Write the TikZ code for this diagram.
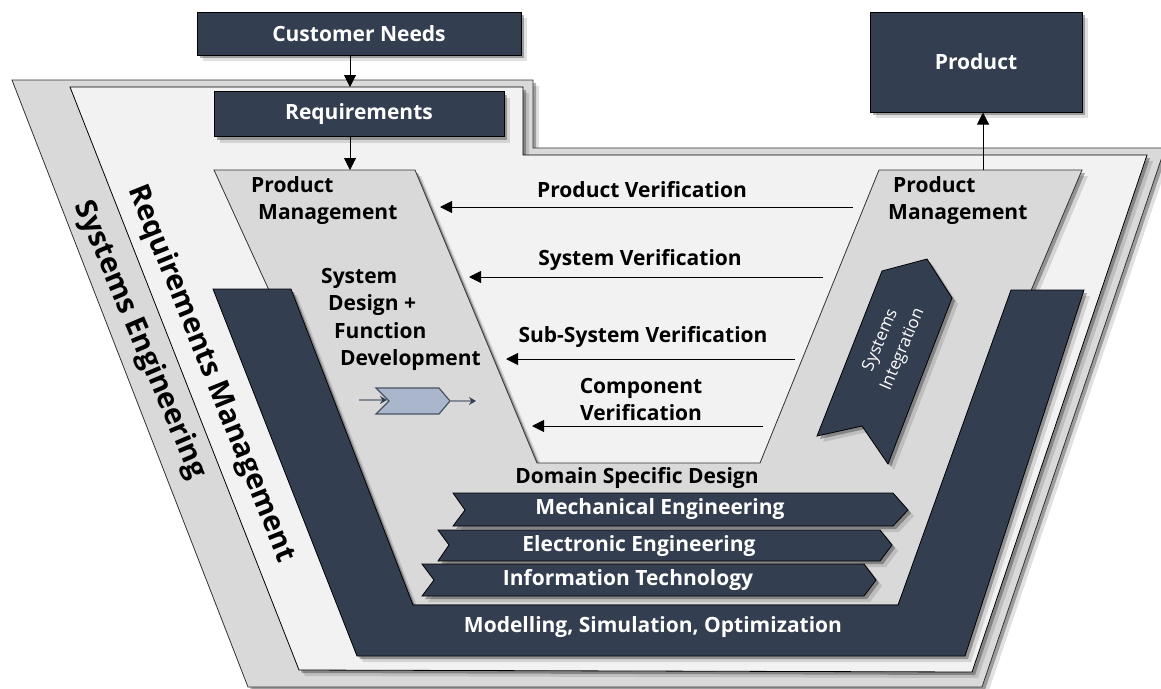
\documentclass[tikz,border=0pt]{standalone}
\usepackage{fontspec}
\setmainfont{Open Sans}
\usetikzlibrary{arrows.meta,shadows}
\definecolor{navy}{HTML}{333F50}
\definecolor{band}{HTML}{D9D9D9}
\definecolor{pale}{HTML}{F2F2F2}
\definecolor{steel}{HTML}{A9B6CB}
\tikzset{
  shade/.style={
    drop shadow={shadow xshift=6pt,shadow yshift=-6pt,fill=black,opacity=0.12},
    drop shadow={shadow xshift=3pt,shadow yshift=-3pt,fill=black,opacity=0.3}},
  navybox/.style={draw=black,line width=1pt,fill=navy,shade,text=white,font=\bfseries\fontsize{21}{24}\selectfont,inner sep=0pt},
  navyarea/.style={draw=black,line width=0.8pt,fill=navy,shade},
  bandarea/.style={draw=black!80,line width=0.8pt,fill=band,shade},
  whitelabel/.style={text=white,font=\bfseries\fontsize{21}{24}\selectfont},
  blacklabel/.style={text=black,font=\bfseries\fontsize{21}{27.5}\selectfont},
  flow/.style={line width=1pt,-{Triangle[length=12pt,width=12pt]}}
}
\begin{document}
\begin{tikzpicture}[x=1pt,y=-1pt]
\useasboundingbox (0,0) rectangle (1161,688);
% layers, back to front
\draw[bandarea] (12,80) -- (533,80) -- (533,148) -- (1165,148) -- (982,687) -- (248,687) -- cycle;
\draw[draw=black,line width=0.8pt,fill=pale,shade] (70,87) -- (523,87) -- (523,155) -- (1147,155) -- (972,672) -- (299,670) -- cycle;
\draw[bandarea] (214,170) -- (415,170) -- (537,463) -- (760,463) -- (879,170) -- (1082,170) -- (898,605) -- (413,605) -- cycle;
\draw[navyarea] (213,289) -- (291,289) -- (413,605) -- (898,605) -- (1011,290) -- (1084,290) -- (965,656) -- (357,656) -- cycle;
% domain chevrons
\draw[navyarea] (453,493) -- (893,493) -- (908,510) -- (893,526) -- (453,526) -- (465,510) -- cycle;
\draw[navyarea] (438,530) -- (880,530) -- (892,545) -- (880,561) -- (438,561) -- (449,545) -- cycle;
\draw[navyarea] (422,564) -- (864,564) -- (876,580) -- (864,596) -- (422,596) -- (434,580) -- cycle;
% integration arrow
\draw[navyarea] (817,436) -- (882,271) -- (927,259) -- (952,298) -- (888,464) -- (862,426) -- cycle;
\node[text=white,font=\fontsize{17}{24}\selectfont,align=center,rotate=67] (integration) at (892,345) {Systems\\Integration};
% boxes
\node[navybox,minimum width=324pt,minimum height=43pt] (customer) at (359,33.5) {Customer Needs};
\node[navybox,minimum width=290pt,minimum height=45pt] (reqs) at (359,114) {Requirements};
\node[navybox,minimum width=212pt,minimum height=100pt] (product) at (976,62) {Product};
% connectors
\coordinate (rmtop) at (350,87);
\coordinate (vtop) at (350,170);
\coordinate (vright) at (983,170);
\draw[flow] (customer.south -| rmtop) -- (rmtop);
\draw[flow] (reqs.south -| vtop) -- (vtop);
\draw[flow] (vright) -- (product.south -| vright);
\coordinate (pvstart) at (853,207);
\coordinate (pvend) at (440,207);
\coordinate (svstart) at (823,277);
\coordinate (svend) at (469,277);
\coordinate (ssvstart) at (795,359);
\coordinate (ssvend) at (506,359);
\coordinate (cvstart) at (763,426);
\coordinate (cvend) at (532,426);
\draw[flow] (pvstart) -- (pvend);
\draw[flow] (svstart) -- (svend);
\draw[flow] (ssvstart) -- (ssvend);
\draw[flow] (cvstart) -- (cvend);
% small process symbol
\draw[draw=navy!90,line width=1.2pt,fill=steel] (376,388) -- (439,388) -- (450,401) -- (439,414) -- (376,414) -- (389,401) -- cycle;
\coordinate (symin) at (359,400);
\coordinate (symend) at (387,400);
\coordinate (symout) at (450,401);
\coordinate (symtip) at (476,401);
\draw[draw=navy!60,line width=1.5pt,-{Stealth[length=7pt,width=8pt,navy]}] (symin) -- (symend);
\draw[draw=navy!60,line width=1.5pt,-{Stealth[length=7pt,width=8pt,navy]}] (symout) -- (symtip);
% labels
\node[blacklabel,align=left,anchor=north west,inner sep=0pt] (pmleft) at (251,176) {Product\\\hspace*{7pt}Management};
\node[blacklabel,align=left,anchor=north west,inner sep=0pt] (pmright) at (888,176) {\hspace*{5pt}Product\\Management};
\node[blacklabel,align=left,anchor=north west,inner sep=0pt] (sysdesign) at (321,268) {System\\\hspace*{7pt}Design +\\\hspace*{13pt}Function\\\hspace*{19pt}Development};
\node[blacklabel] (pv) at (642,190) {Product Verification};
\node[blacklabel] (sv) at (640,260) {System Verification};
\node[blacklabel] (ssv) at (643,337) {Sub-System Verification};
\node[blacklabel,align=center] (cv) at (641,399.5) {Component\\Verification};
\node[blacklabel] (domain) at (637,478) {Domain Specific Design};
\node[whitelabel] (mech) at (660,509) {Mechanical Engineering};
\node[whitelabel] (elec) at (639,546) {Electronic Engineering};
\node[whitelabel] (info) at (628,580) {Information Technology};
\node[whitelabel] (msim) at (653,627) {Modelling, Simulation, Optimization};
\node[text=black,font=\bfseries\fontsize{29}{32}\selectfont,rotate=-67] (syseng) at (140,340) {Systems Engineering};
\node[text=black,font=\bfseries\fontsize{29}{32}\selectfont,rotate=-68] (reqman) at (211,374) {Requirements Management};
\end{tikzpicture}
\end{document}
